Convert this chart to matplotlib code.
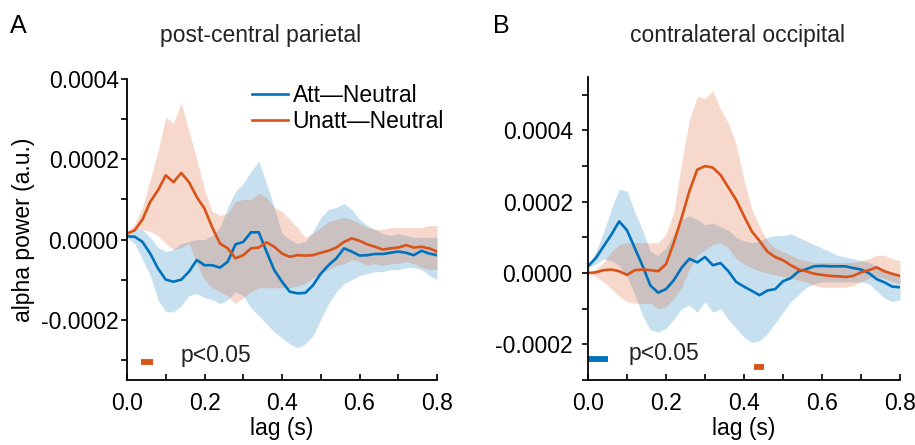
import numpy as np
import matplotlib
matplotlib.use("Agg")
import matplotlib.pyplot as plt
from matplotlib.ticker import FormatStrFormatter, MultipleLocator

plt.rcParams['font.family'] = ['Liberation Sans', 'DejaVu Sans']

# values in units of 1e-4 (a.u.), lag step 0.02 s
lag = np.round(np.arange(0, 41) * 0.02, 2)

# panel A: post-central parietal
a_att = [0.08, 0.07, -0.06, -0.35, -0.72, -1.0, -1.05, -1.0, -0.8, -0.51,
         -0.64, -0.64, -0.7, -0.55, -0.12, -0.06, 0.18, 0.18, -0.3, -0.76,
         -1.05, -1.3, -1.34, -1.33, -1.14, -0.85, -0.64, -0.47, -0.22, -0.3,
         -0.4, -0.39, -0.36, -0.36, -0.33, -0.3, -0.33, -0.39, -0.28, -0.35, -0.39]
a_att_hi = [0.1, 0.3, 0.25, 0.05, -0.2, -0.3, -0.25, -0.1, -0.05, 0.0,
            0.0, 0.1, 0.3, 0.8, 1.2, 1.4, 1.7, 1.95, 1.4, 0.8,
            0.15, 0.0, -0.1, -0.05, 0.2, 0.55, 0.75, 0.8, 0.9, 0.75,
            0.5, 0.35, 0.25, 0.15, 0.1, 0.15, 0.1, 0.05, 0.05, 0.05, 0.05]
a_att_lo = [0.05, -0.1, -0.5, -0.9, -1.5, -1.8, -1.8, -1.65, -1.4, -1.35,
            -1.45, -1.5, -1.6, -1.5, -1.3, -1.4, -1.7, -1.9, -2.1, -2.3,
            -2.45, -2.6, -2.7, -2.6, -2.4, -2.0, -1.6, -1.3, -1.1, -1.0,
            -0.9, -0.85, -0.8, -0.8, -0.75, -0.75, -0.7, -0.7, -0.75, -0.9, -1.0]
a_unatt = [0.15, 0.23, 0.5, 0.94, 1.23, 1.6, 1.43, 1.66, 1.43, 1.06,
           0.77, 0.3, -0.1, -0.22, -0.47, -0.39, -0.22, -0.2, -0.07, -0.18,
           -0.35, -0.43, -0.39, -0.4, -0.39, -0.33, -0.28, -0.2, -0.06, 0.03,
           -0.03, -0.12, -0.18, -0.25, -0.22, -0.2, -0.14, -0.2, -0.18, -0.22, -0.3]
a_unatt_hi = [0.15, 0.4, 0.8, 1.5, 2.2, 3.05, 2.9, 3.4, 2.7, 2.0,
              1.25, 0.7, 0.6, 0.65, 0.95, 1.0, 1.0, 1.15, 1.05, 0.8,
              0.7, 0.5, 0.3, 0.05, 0.15, 0.3, 0.45, 0.5, 0.55, 0.5,
              0.4, 0.3, 0.25, 0.25, 0.3, 0.3, 0.3, 0.3, 0.3, 0.35, 0.35]
a_unatt_lo = [0.1, 0.3, 0.25, 0.2, 0.1, -0.1, -0.25, -0.2, -0.1, -0.6,
              -1.0, -1.2, -1.3, -1.4, -1.6, -1.45, -1.3, -1.2, -1.2, -1.2,
              -1.2, -1.2, -1.15, -1.1, -0.95, -0.85, -0.75, -0.65, -0.6, -0.5,
              -0.55, -0.65, -0.6, -0.65, -0.6, -0.6, -0.55, -0.6, -0.7, -0.75, -0.75]

# panel B: contralateral occipital
b_att = [0.19, 0.42, 0.75, 1.08, 1.45, 1.2, 0.7, 0.2, -0.35, -0.55,
         -0.45, -0.2, 0.15, 0.4, 0.3, 0.45, 0.22, 0.28, 0.05, -0.25,
         -0.38, -0.5, -0.62, -0.49, -0.45, -0.23, -0.14, 0.05, 0.11, 0.19,
         0.2, 0.19, 0.19, 0.19, 0.14, 0.1, 0.0, -0.17, -0.26, -0.38, -0.4]
b_att_hi = [0.2, 0.6, 1.15, 1.8, 2.35, 2.3, 1.7, 1.2, 0.6, 0.5,
            0.7, 1.1, 1.5, 1.6, 1.5, 1.35, 1.4, 1.3, 1.2, 1.0,
            0.9, 0.85, 0.9, 1.0, 1.05, 1.05, 1.1, 1.0, 0.9, 0.8,
            0.7, 0.6, 0.5, 0.45, 0.4, 0.35, 0.3, 0.2, 0.1, 0.0, -0.1]
b_att_lo = [0.15, 0.25, 0.4, 0.35, 0.2, -0.1, -0.6, -1.2, -1.6, -1.65,
            -1.55, -1.3, -1.0, -0.9, -1.1, -0.8, -1.1, -1.0, -1.3, -1.55,
            -1.8, -1.95, -1.9, -1.7, -1.4, -1.1, -0.8, -0.6, -0.4, -0.3,
            -0.25, -0.25, -0.25, -0.25, -0.25, -0.25, -0.3, -0.5, -0.7, -0.8, -0.75]
b_unatt = [0.0, 0.02, 0.08, 0.1, 0.05, -0.05, 0.08, 0.1, 0.08, 0.05,
           0.25, 0.85, 1.55, 2.3, 2.9, 3.0, 2.96, 2.75, 2.4, 2.05,
           1.6, 1.17, 0.9, 0.6, 0.45, 0.36, 0.22, 0.1, 0.05, -0.02,
           -0.05, -0.08, -0.09, -0.11, -0.08, 0.02, 0.08, 0.16, 0.05, -0.02, -0.08]
b_unatt_hi = [0.0, 0.1, 0.3, 0.6, 0.8, 0.85, 0.85, 0.85, 0.85, 0.85,
              1.1, 1.7, 3.1, 4.3, 4.95, 4.9, 5.1, 4.6, 4.2, 3.6,
              2.6, 1.8, 1.3, 0.9, 0.7, 0.6, 0.5, 0.4, 0.35, 0.3,
              0.3, 0.3, 0.3, 0.3, 0.3, 0.35, 0.4, 0.5, 0.5, 0.4, 0.35]
b_unatt_lo = [0.0, -0.1, -0.25, -0.45, -0.65, -0.8, -0.85, -0.85, -0.85, -1.0,
              -0.95, -0.7, -0.4, 0.1, 0.5, 0.65, 0.8, 0.85, 0.7, 0.4,
              0.25, 0.15, 0.05, 0.0, -0.05, -0.1, -0.15, -0.2, -0.25, -0.35,
              -0.4, -0.4, -0.4, -0.4, -0.35, -0.25, -0.15, -0.1, -0.15, -0.25, -0.3]

# significant clusters (p<0.05): (start, end, level)
a_sig_unatt = (0.037, 0.067, -3.05)
b_sig_att = (0.0, 0.052, -2.42)
b_sig_unatt = (0.426, 0.451, -2.63)

blue = '#0072BD'
orange = '#D95319'
fs = 16.5
scale = 1e-4

fig = plt.figure(figsize=(9.15, 4.45), dpi=100)
axA = fig.add_axes([127 / 915, 65 / 445, 310 / 915, 301 / 445])
axB = fig.add_axes([588 / 915, 65 / 445, 312 / 915, 303 / 445])


def draw_panel(ax, att, att_hi, att_lo, un, un_hi, un_lo):
    ax.fill_between(lag, np.array(att_lo) * scale, np.array(att_hi) * scale,
                    color=blue, alpha=0.22, lw=0)
    ax.fill_between(lag, np.array(un_lo) * scale, np.array(un_hi) * scale,
                    color=orange, alpha=0.22, lw=0)
    ax.plot(lag, np.array(att) * scale, color=blue, lw=1.9, label='Att\u2014Neutral')
    ax.plot(lag, np.array(un) * scale, color=orange, lw=1.9, label='Unatt\u2014Neutral')
    ax.set_xlim(0, 0.8)
    for s in ['top', 'right']:
        ax.spines[s].set_visible(False)
    ax.spines['left'].set_linewidth(1.3)
    ax.spines['bottom'].set_linewidth(1.3)
    ax.xaxis.set_major_locator(MultipleLocator(0.2))
    ax.xaxis.set_minor_locator(MultipleLocator(0.1))
    ax.xaxis.set_major_formatter(FormatStrFormatter('%.1f'))
    ax.yaxis.set_major_locator(MultipleLocator(0.0002))
    ax.yaxis.set_minor_locator(MultipleLocator(0.0001))
    ax.yaxis.set_major_formatter(FormatStrFormatter('%.4f'))
    ax.tick_params(axis='x', which='both', direction='in', length=4, width=1.2,
                   labelsize=fs, pad=9)
    ax.tick_params(axis='y', which='both', direction='out', length=4, width=1.2,
                   labelsize=fs)
    ax.set_xlabel('lag (s)', fontsize=fs, labelpad=1)


def sig_bar(ax, bar, color):
    ax.plot([bar[0], bar[1]], [bar[2] * scale] * 2, color=color, lw=4.2,
            solid_capstyle='butt', clip_on=False)


draw_panel(axA, a_att, a_att_hi, a_att_lo, a_unatt, a_unatt_hi, a_unatt_lo)
axA.set_ylim(-0.00035, 0.0004)
axA.tick_params(axis='y', pad=2)
axA.set_ylabel('alpha power (a.u.)', fontsize=fs, labelpad=4)
sig_bar(axA, a_sig_unatt, orange)
axA.text(0.137, -3.05 * scale, 'p<0.05', fontsize=fs, va='baseline', color='#222222')
axA.legend(loc='upper left', bbox_to_anchor=(252 / 915, 1 - 84 / 445),
           bbox_transform=fig.transFigure, frameon=False, fontsize=fs,
           handlelength=1.55, handletextpad=0.22, borderpad=0, borderaxespad=0,
           labelspacing=0.12)

draw_panel(axB, b_att, b_att_hi, b_att_lo, b_unatt, b_unatt_hi, b_unatt_lo)
axB.set_ylim(-0.0003, 0.00055)
axB.tick_params(axis='y', pad=7)
sig_bar(axB, b_sig_att, blue)
sig_bar(axB, b_sig_unatt, orange)
axB.text(0.103, -2.45 * scale, 'p<0.05', fontsize=fs, va='baseline', color='#222222')

fig.text(10 / 915, 1 - 33 / 445, 'A', fontsize=18, va='baseline')
fig.text(493 / 915, 1 - 33 / 445, 'B', fontsize=18, va='baseline')
fig.text(261 / 915, 1 - 42 / 445, 'post-central parietal', fontsize=fs,
         ha='center', va='baseline', color='#222222')
fig.text(737 / 915, 1 - 42 / 445, 'contralateral occipital', fontsize=fs,
         ha='center', va='baseline', color='#222222')

fig.savefig('out.png', dpi=100)
